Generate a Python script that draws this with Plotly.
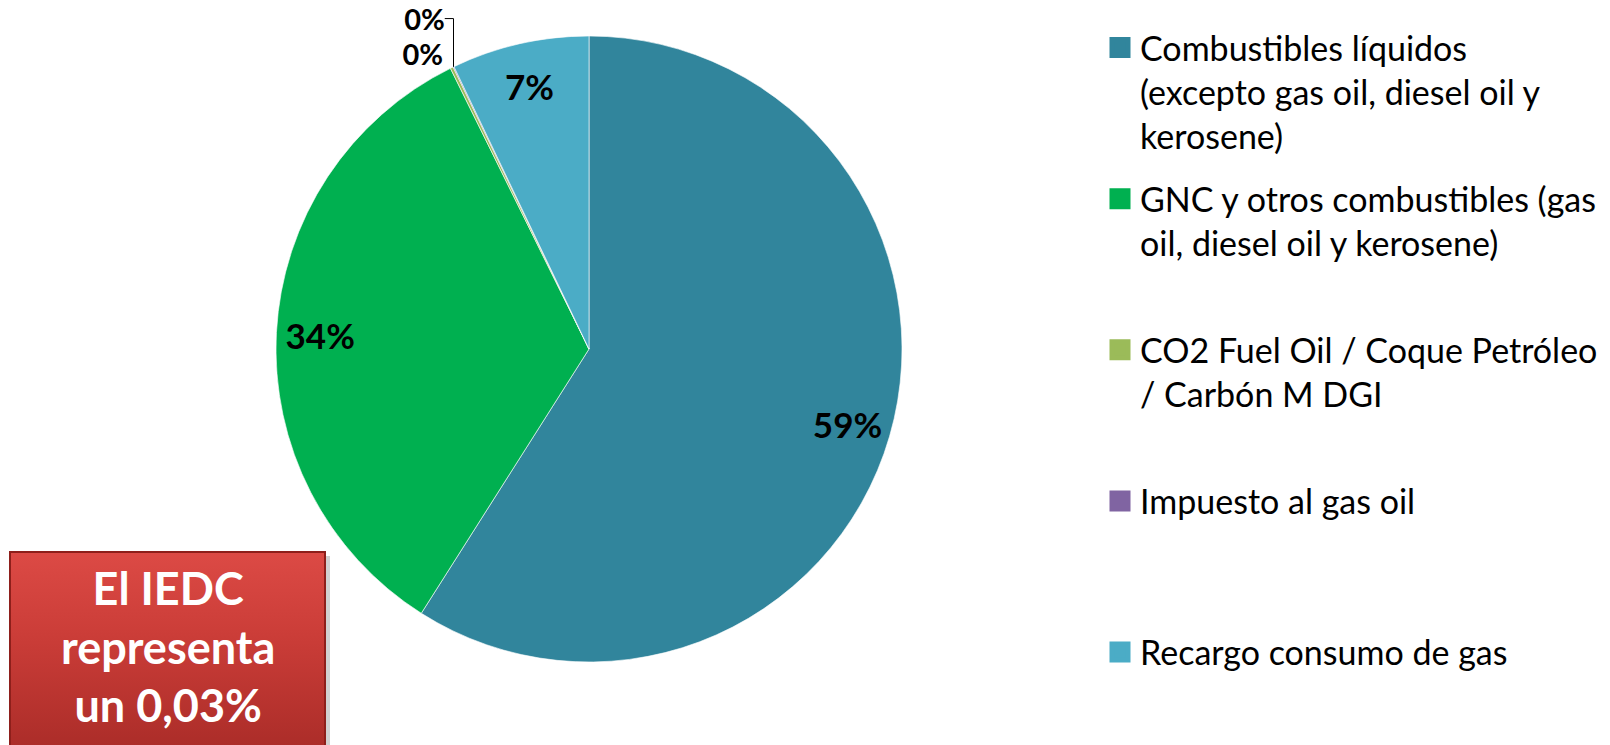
import plotly.graph_objects as go

# ---- data ----
categories = [
    "Combustibles líquidos (excepto gas oil, diesel oil y kerosene)",
    "GNC y otros combustibles (gas oil, diesel oil y kerosene)",
    "CO2 Fuel Oil / Coque Petróleo / Carbón M DGI",
    "Impuesto al gas oil",
    "Recargo consumo de gas",
]
legend_labels = [
    "Combustibles líquidos<br>(excepto gas oil, diesel oil y<br>kerosene)",
    "GNC y otros combustibles (gas<br>oil, diesel oil y kerosene)<br>\u00a0",
    "CO2 Fuel Oil / Coque Petróleo<br>/ Carbón M DGI<br>\u00a0",
    "Impuesto al gas oil<br>\u00a0<br>\u00a0",
    "Recargo consumo de gas",
]
values = [59.0, 33.7, 0.15, 0.05, 7.1]
colors = ["#31859C", "#00B050", "#9BBB59", "#8064A2", "#4BACC6"]
label_positions = ["inside", "inside", "outside", "outside", "inside"]
label_sizes = [35, 35, 29, 29, 35]
note_text = "El IEDC<br>representa<br>un 0,03%"

W, H = 1610, 745
FONT = "Lato"

fig = go.Figure()

dom = dict(x=[276 / W, 902 / W], y=[1 - 663 / H, 1 - 35 / H])

# main pie (colours)
fig.add_trace(go.Pie(
    labels=categories, values=values, sort=False, direction="clockwise",
    rotation=0, domain=dom, textinfo="none", hoverinfo="label+percent",
    marker=dict(colors=colors, line=dict(color="rgba(255,255,255,0.6)", width=1)),
    showlegend=False,
))

# transparent ring overlay used to place the percentage labels near the rim
fig.add_trace(go.Pie(
    labels=categories, values=values, sort=False, direction="clockwise",
    rotation=0, domain=dom, hole=0.72,
    marker=dict(colors=["rgba(0,0,0,0)"] * len(values), line=dict(width=0)),
    texttemplate="<b>%{percent:.0%}</b>",
    textposition=label_positions,
    insidetextorientation="horizontal",
    textfont=dict(family=FONT, size=label_sizes, color="#000000"),
    hoverinfo="skip", showlegend=False,
))

# legend entries
for i, (lab, col) in enumerate(zip(legend_labels, colors)):
    fig.add_trace(go.Scatter(
        x=[None], y=[None], mode="markers", name=lab, legendgroup=str(i),
        marker=dict(symbol="square", size=16, color=col, line=dict(color=col, width=5)),
        showlegend=True, hoverinfo="skip",
    ))

# red note box (gradient fill on the hidden, paper-aligned axes)
bx0, bx1, by0, by1 = 10 / W, 325 / W, -0.02, 1 - 552 / H
fig.add_shape(type="rect", xref="paper", yref="paper",
              x0=bx0 + 4 / W, x1=bx1 + 5 / W, y0=by0, y1=by1 - 4 / H,
              fillcolor="rgba(0,0,0,0.18)", line=dict(width=0), layer="below")
fig.add_trace(go.Scatter(
    x=[bx0, bx1, bx1, bx0, bx0], y=[by0, by0, by1, by1, by0],
    mode="lines", fill="toself", line=dict(width=0),
    fillgradient=dict(type="vertical",
                      colorscale=[[0, "#A82B27"], [0.6, "#CB3D38"], [1, "#DC4A45"]]),
    showlegend=False, hoverinfo="skip",
))
fig.add_shape(type="rect", xref="paper", yref="paper",
              x0=bx0, x1=bx1, y0=by0, y1=by1,
              fillcolor="rgba(0,0,0,0)", line=dict(color="#8E1F1B", width=2), layer="above")
fig.add_annotation(text=f"<b>{note_text}</b>", xref="paper", yref="paper",
                   x=167.5 / W, y=1 - 646 / H, showarrow=False,
                   xanchor="center", yanchor="middle", align="center",
                   font=dict(family=FONT, size=45, color="#FFFFFF"))

fig.update_layout(
    width=W, height=H,
    margin=dict(l=0, r=0, t=0, b=0, autoexpand=False),
    paper_bgcolor="white", plot_bgcolor="rgba(0,0,0,0)",
    font=dict(family=FONT, color="#000000"),
    xaxis=dict(visible=False, range=[0, 1], fixedrange=True),
    yaxis=dict(visible=False, range=[0, 1], fixedrange=True),
    legend=dict(
        x=1100 / W, y=1 - 19 / H, xanchor="left", yanchor="top",
        bgcolor="rgba(0,0,0,0)", borderwidth=0,
        font=dict(family=FONT, size=34, color="#000000"),
        traceorder="grouped", tracegroupgap=15.5, valign="top",
        itemclick=False, itemdoubleclick=False,
    ),
)

fig.write_html("out.html", config={"displayModeBar": False},
               post_script="document.body.style.margin='0px';")
